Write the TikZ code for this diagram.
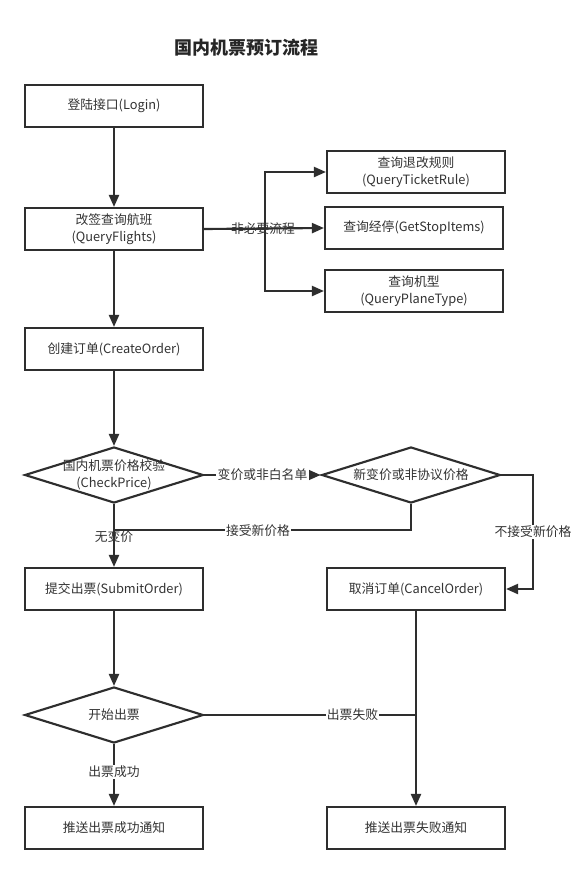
\documentclass[tikz,border=0pt]{standalone}
\usepackage{fontspec}
\setmainfont{Noto Sans CJK SC}
\usetikzlibrary{shapes.geometric,arrows.meta,calc}
\definecolor{ln}{HTML}{2E2E2E}
\definecolor{tx}{HTML}{333333}
\tikzset{
  px/.style={x=0.75pt,y=-0.75pt},
  fnt/.style={font=\fontsize{9.6}{12.5}\selectfont},
  box/.style={draw=ln,line width=1.6pt,minimum width=133.5pt,minimum height=31.5pt,inner sep=1pt,align=center,fnt,text=tx},
  dia/.style={draw=ln,line width=1.6pt,diamond,aspect=3.2,minimum width=134pt,minimum height=42pt,inner sep=0pt},
  dtext/.style={align=center,fnt,text=tx,inner sep=0pt},
  conn/.style={draw=ln,line width=1.6pt},
  arr/.style={conn,-{Triangle[length=9pt,width=7.5pt]}},
  lbl/.style={fnt,text=tx,inner sep=1pt},
  wl/.style={lbl,fill=white}
}
\begin{document}
\begin{tikzpicture}[px]
\useasboundingbox[fill=white] (0,0) rectangle (587,875);
\node[font=\bfseries\fontsize{13.5}{16}\selectfont,text=black!85] (title) at (246,48) {国内机票预订流程};
\node[box] (login) at (114,106) {登陆接口(Login)};
\node[box] (qf) at (114,229) {改签查询航班\\(QueryFlights)};
\node[box] (co) at (114,349) {创建订单(CreateOrder)};
\node[box] (r1) at (416,172) {查询退改规则\\(QueryTicketRule)};
\node[box] (r2) at (414,228) {查询经停(GetStopItems)};
\node[box] (r3) at (414,291) {查询机型\\(QueryPlaneType)};
\node[dia] (d1) at (114,475) {};
\node[dtext] (d1t) at (d1.center) {国内机票价格校验\\(CheckPrice)};
\node[dia] (d2) at (411,475) {};
\node[dtext] (d2t) at (d2.center) {新变价或非协议价格};
\node[box] (sub) at (114,589) {提交出票(SubmitOrder)};
\node[box] (can) at (416,589) {取消订单(CancelOrder)};
\node[dia] (d3) at (114,715) {};
\node[dtext] (d3t) at (d3.center) {开始出票};
\node[box] (ok) at (114,828) {推送出票成功通知};
\node[box] (fail) at (416,828) {推送出票失败通知};
\coordinate (tk) at (265,229);
\coordinate (j1) at (114,530);
\coordinate (rt) at (533,475);
% connectors
\draw[arr] (login) -- (qf);
\draw[arr] (qf) -- (co);
\draw[arr] (co) -- (d1);
\draw[arr] (qf.east) -- (tk) |- (r1.west);
\draw[arr] (qf.east) -- (r2.west);
\draw[arr] (qf.east) -- (tk) |- (r3.west);
\node[lbl] (l0) at (263,229) {非必要流程};
\draw[arr] (d1.east) -- node[wl] (l1) {变价或非白名单} (d2.west);
\draw[arr] (d1.south) -- (sub.north);
\draw[conn] (d2.south) |- (j1);
\node[wl] (l2) at (258,531) {接受新价格};
\node[lbl] (l3) at (114,537) {无变价};
\draw[arr] (d2.east) -- (rt) |- (can.east);
\node[wl] (l4) at (533,532) {不接受新价格};
\draw[arr] (sub) -- (d3);
\draw[arr] (d3.south) -- node[wl,pos=0.45] (l5) {出票成功} (ok.north);
\draw[conn] (d3.east) -- node[wl,pos=0.7] (l6) {出票失败} (can.south |- d3.east);
\draw[arr] (can.south) -- (fail.north);
\end{tikzpicture}
\end{document}
